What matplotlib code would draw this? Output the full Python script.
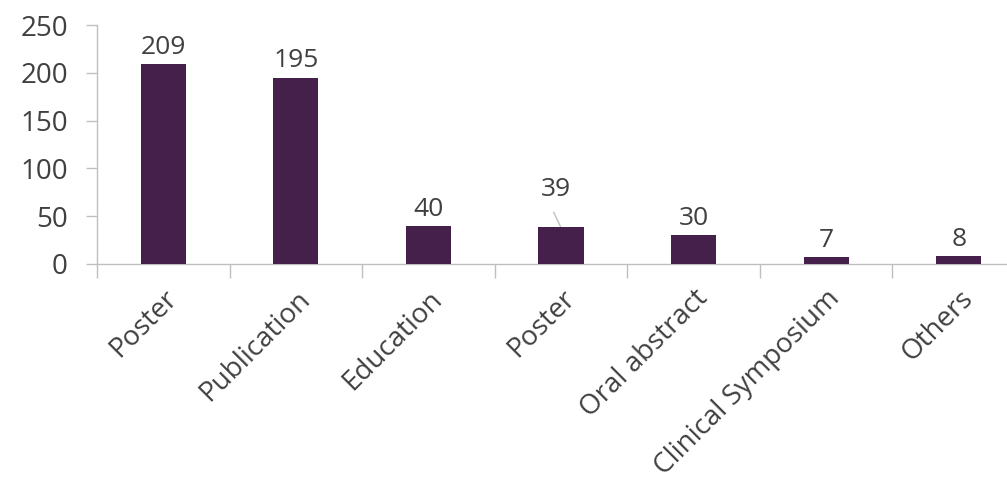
import matplotlib
matplotlib.use("Agg")
import matplotlib.pyplot as plt
import numpy as np

categories = ["Poster", "Publication", "Education", "Poster", "Oral abstract",
              "Clinical Symposium", "Others"]
counts = [209, 195, 40, 39, 30, 7, 8]
y_ticks = [0, 50, 100, 150, 200, 250]

bar_color = "#44204A"
axis_color = "#BFBFBF"
text_color = "#404040"
fs = 19

plt.rcParams["font.family"] = ["Open Sans", "DejaVu Sans"]

fig = plt.figure(figsize=(10.07, 4.78), dpi=100)
ax = fig.add_axes([97 / 1007, 1 - 264 / 478, 928 / 1007, 239 / 478])

x = np.arange(len(categories))
ax.bar(x, counts, width=0.34, color=bar_color, zorder=3)

ax.set_xlim(-0.5, len(categories) - 0.5)
ax.set_ylim(0, 250)
ax.set_yticks(y_ticks)
ax.tick_params(axis="y", length=8, width=1, color=axis_color, labelsize=20,
               labelcolor=text_color, pad=13)

# category labels at bar centres, boundary ticks between categories
ax.set_xticks(x)
ax.set_xticklabels(categories, rotation=45, ha="right", rotation_mode="anchor",
                   fontsize=20, color=text_color)
ax.tick_params(axis="x", length=0, pad=15)
ax.set_xticks(np.arange(-0.5, len(categories) - 0.4, 1.0), minor=True)
ax.tick_params(axis="x", which="minor", length=10, width=1, color=axis_color)

for side in ("top", "right"):
    ax.spines[side].set_visible(False)
for side in ("left", "bottom"):
    ax.spines[side].set_color(axis_color)
    ax.spines[side].set_linewidth(1)

# value labels
for i, v in enumerate(counts):
    if i == 3:
        ax.annotate(str(v), xy=(i, v), xytext=(-4, 27), textcoords="offset points",
                    ha="center", va="center", fontsize=fs, color=text_color)
        ax.plot([i - 0.055, i - 0.005], [v + 15, v + 0.5], color=axis_color,
                lw=1, zorder=2)
    else:
        ax.annotate(str(v), xy=(i, v), xytext=(0, 3), textcoords="offset points",
                    ha="center", va="bottom", fontsize=fs, color=text_color)

fig.savefig("out.png", dpi=100)
